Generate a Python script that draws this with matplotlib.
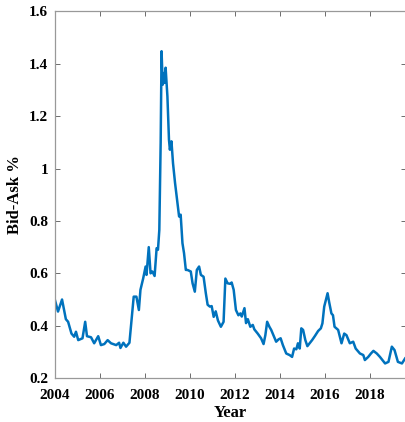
import matplotlib
matplotlib.use("Agg")
import matplotlib.pyplot as plt
from matplotlib.ticker import FuncFormatter

# decimal year and bid-ask spread (%)
years = [2004.00, 2004.13, 2004.31, 2004.48, 2004.58, 2004.73, 2004.85, 2004.93,
         2005.03, 2005.22, 2005.34, 2005.42, 2005.60, 2005.74, 2005.92, 2006.04,
         2006.19, 2006.34, 2006.49, 2006.72, 2006.85, 2006.91, 2007.04, 2007.16,
         2007.31, 2007.40, 2007.50, 2007.62, 2007.73, 2007.80, 2007.92, 2008.03,
         2008.07, 2008.17, 2008.25, 2008.33, 2008.43, 2008.52, 2008.58, 2008.64,
         2008.70, 2008.74, 2008.79, 2008.85, 2008.88, 2008.92, 2009.00, 2009.07,
         2009.11, 2009.18, 2009.25, 2009.34, 2009.45, 2009.52, 2009.59, 2009.67,
         2009.74, 2009.82, 2009.89, 2010.04, 2010.12, 2010.22, 2010.31, 2010.41,
         2010.49, 2010.61, 2010.71, 2010.79, 2010.89, 2010.97, 2011.06, 2011.15,
         2011.25, 2011.38, 2011.50, 2011.58, 2011.68, 2011.79, 2011.86, 2011.95,
         2012.05, 2012.16, 2012.25, 2012.31, 2012.43, 2012.50, 2012.58, 2012.69,
         2012.80, 2012.87, 2013.02, 2013.17, 2013.28, 2013.36, 2013.44, 2013.54,
         2013.62, 2013.72, 2013.84, 2013.95, 2014.04, 2014.14, 2014.29, 2014.44,
         2014.55, 2014.64, 2014.74, 2014.81, 2014.89, 2014.96, 2015.04, 2015.14,
         2015.23, 2015.33, 2015.44, 2015.56, 2015.71, 2015.83, 2015.90, 2015.98,
         2016.13, 2016.20, 2016.30, 2016.37, 2016.44, 2016.60, 2016.75, 2016.87,
         2016.97, 2017.12, 2017.27, 2017.38, 2017.57, 2017.72, 2017.79, 2017.94,
         2018.06, 2018.17, 2018.32, 2018.46, 2018.69, 2018.84, 2018.99, 2019.11,
         2019.26, 2019.44, 2019.58]
spread = [0.496, 0.454, 0.500, 0.425, 0.415, 0.370, 0.358, 0.377,
          0.345, 0.352, 0.415, 0.360, 0.356, 0.333, 0.360, 0.326,
          0.330, 0.345, 0.333, 0.326, 0.335, 0.315, 0.335, 0.320,
          0.335, 0.420, 0.511, 0.511, 0.460, 0.537, 0.580, 0.626,
          0.594, 0.700, 0.600, 0.607, 0.590, 0.696, 0.690, 0.766,
          1.100, 1.448, 1.320, 1.365, 1.327, 1.385, 1.276, 1.110,
          1.072, 1.104, 1.020, 0.945, 0.868, 0.817, 0.824, 0.715,
          0.677, 0.613, 0.613, 0.607, 0.562, 0.530, 0.613, 0.626,
          0.594, 0.587, 0.524, 0.480, 0.473, 0.475, 0.434, 0.455,
          0.420, 0.396, 0.415, 0.580, 0.562, 0.560, 0.565, 0.537,
          0.460, 0.440, 0.447, 0.435, 0.467, 0.410, 0.425, 0.396,
          0.403, 0.386, 0.370, 0.352, 0.330, 0.364, 0.415, 0.396,
          0.384, 0.364, 0.339, 0.348, 0.352, 0.326, 0.294, 0.288,
          0.281, 0.313, 0.310, 0.333, 0.313, 0.390, 0.384, 0.345,
          0.322, 0.333, 0.345, 0.360, 0.380, 0.390, 0.409, 0.473,
          0.524, 0.490, 0.447, 0.440, 0.396, 0.384, 0.333, 0.370,
          0.364, 0.333, 0.339, 0.313, 0.294, 0.288, 0.269, 0.281,
          0.294, 0.304, 0.294, 0.281, 0.256, 0.262, 0.320, 0.307,
          0.262, 0.256, 0.275]

xticks = [2004, 2006, 2008, 2010, 2012, 2014, 2016, 2018]
yticks = [0.2, 0.4, 0.6, 0.8, 1.0, 1.2, 1.4, 1.6]

plt.rcParams['font.family'] = ['Liberation Serif', 'DejaVu Serif']
plt.rcParams['font.weight'] = 'bold'

fig = plt.figure(figsize=(4.05, 4.22), dpi=100)
# right edge of the axes falls just outside the picture, as in the original
ax = fig.add_axes([0.136, 0.104, 0.867, 0.869])

ax.plot(years, spread, color='#0072BD', linewidth=1.8)

ax.set_xlim(2004, 2019.63)
ax.set_ylim(0.2, 1.6)
ax.set_xticks(xticks)
ax.set_yticks(yticks)
ax.yaxis.set_major_formatter(FuncFormatter(lambda v, p: '%g' % v))

ax.tick_params(direction='in', top=True, right=True, length=3.5, width=0.6,
               color='#555555', labelsize=11)
ax.tick_params(axis='x', pad=8)
ax.tick_params(axis='y', pad=5)
for lab in ax.get_xticklabels() + ax.get_yticklabels():
    lab.set_fontweight('bold')
for s in ax.spines.values():
    s.set_color('#999999')
    s.set_linewidth(0.9)

ax.set_xlabel('Year', fontsize=12, fontweight='bold', labelpad=2)
ax.set_ylabel('Bid-Ask %', fontsize=12, fontweight='bold', labelpad=4)

fig.savefig('out.png', dpi=100)
